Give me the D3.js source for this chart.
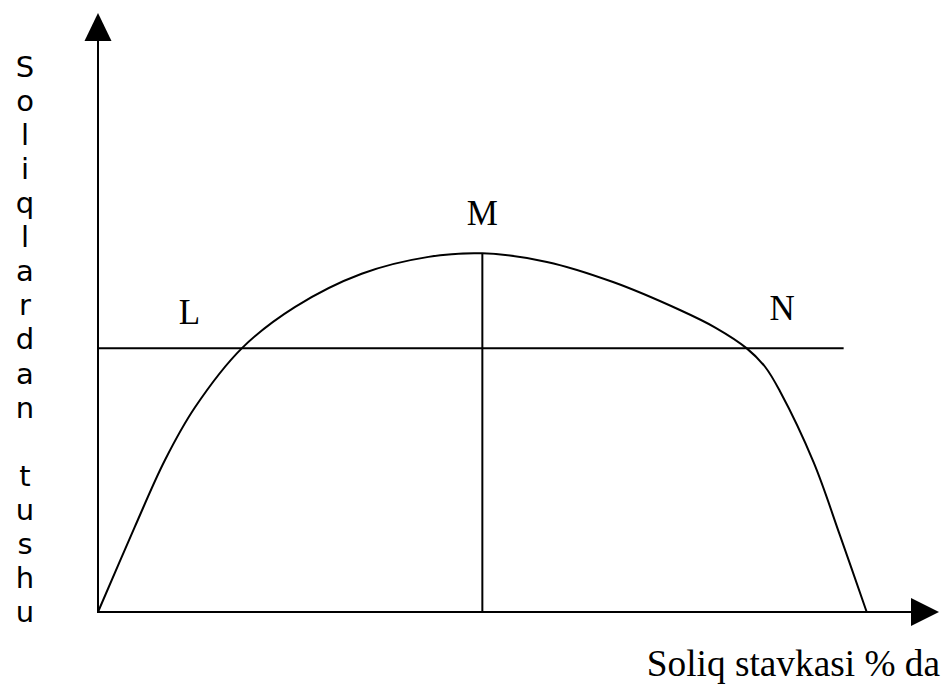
<!DOCTYPE html>
<html>
<head>
<meta charset="utf-8">
<script src="https://cdn.jsdelivr.net/npm/d3@7"></script>
<style>
  html, body { margin: 0; padding: 0; background: #fff; }
  svg { display: block; }
</style>
</head>
<body>
<svg id="chart" width="952" height="686"></svg>
<script>
// Tax rate (%) along the x axis, tax revenue (relative, peak = 100) on y
const taxRate = [0, 4.8, 8.7, 12.6, 18.7, 25.6, 34.3, 43.0, 50, 58.4, 67.0, 75.7, 80.3, 84.4, 86.8, 88.7, 93.1, 96.5, 100];
const revenue = [0, 23.8, 42.3, 57.0, 73.5, 85.0, 94.3, 99.0, 100, 97.6, 92.0, 84.2, 79.3, 73.5, 68.3, 61.6, 41.7, 21.5, 0];

const levelRevenue = 73.5;       // horizontal line L–N
const levelEnd = 97;             // horizontal line ends here (tax %)
const peakRate = 50;             // point M
const pointLabels = ["L", "M", "N"];
const pointLabelPos = [[11.9, 80.3], [50, 107.9], [89.0, 81.4]];  // [tax %, revenue]
const yTitle = "Soliqlardan tushu";
const xTitle = "Soliq stavkasi % da";

const svg = d3.select("#chart");
const x0 = 98, y0 = 612;
const x = d3.scaleLinear().domain([0, 100]).range([x0, 866.7]);
const y = d3.scaleLinear().domain([0, 100]).range([y0, 253.3]);

const stroke = "#000";

// axes
svg.append("line").attr("x1", x0).attr("y1", y0).attr("x2", x0).attr("y2", 38)
  .attr("stroke", stroke).attr("stroke-width", 2);
svg.append("path").attr("d", `M${x0},13 L${x0 - 13.5},41 L${x0 + 13.5},41 Z`).attr("fill", stroke);
svg.append("line").attr("x1", x0 - 1).attr("y1", y0).attr("x2", 914).attr("y2", y0)
  .attr("stroke", stroke).attr("stroke-width", 2);
svg.append("path").attr("d", `M939,${y0} L911,${y0 - 14} L911,${y0 + 14} Z`).attr("fill", stroke);

// horizontal level line
svg.append("line")
  .attr("x1", x(0)).attr("x2", x(levelEnd))
  .attr("y1", y(levelRevenue)).attr("y2", y(levelRevenue))
  .attr("stroke", stroke).attr("stroke-width", 2);

// vertical line at peak
svg.append("line")
  .attr("x1", x(peakRate)).attr("x2", x(peakRate))
  .attr("y1", y(0)).attr("y2", y(100))
  .attr("stroke", stroke).attr("stroke-width", 2);

// Laffer curve
const pts = taxRate.map((t, i) => [t, revenue[i]]);
const line = d3.line().x(d => x(d[0])).y(d => y(d[1])).curve(d3.curveCatmullRom.alpha(0.5));
svg.append("path").datum(pts).attr("d", line)
  .attr("fill", "none").attr("stroke", stroke).attr("stroke-width", 2);

// point labels
svg.selectAll("text.pt").data(pointLabels).enter().append("text")
  .attr("class", "pt")
  .attr("x", (d, i) => x(pointLabelPos[i][0]))
  .attr("y", (d, i) => y(pointLabelPos[i][1]))
  .attr("text-anchor", "middle")
  .attr("font-family", "'Liberation Serif', 'Times New Roman', serif")
  .attr("font-size", 35)
  .attr("fill", stroke)
  .text(d => d);

// vertical y title: one letter per line
const chars = Array.from(yTitle);
svg.append("g").selectAll("text").data(chars).enter().append("text")
  .attr("x", 25)
  .attr("y", (d, i) => 77 + i * 34.06)
  .attr("text-anchor", "middle")
  .attr("font-family", "'DejaVu Sans', sans-serif")
  .attr("font-size", 29)
  .attr("fill", stroke)
  .text(d => d);

// x title
svg.append("text")
  .attr("x", 940).attr("y", 676)
  .attr("text-anchor", "end")
  .attr("font-family", "'Liberation Serif', 'Times New Roman', serif")
  .attr("font-size", 37.3)
  .attr("fill", stroke)
  .text(xTitle);
</script>
</body>
</html>
